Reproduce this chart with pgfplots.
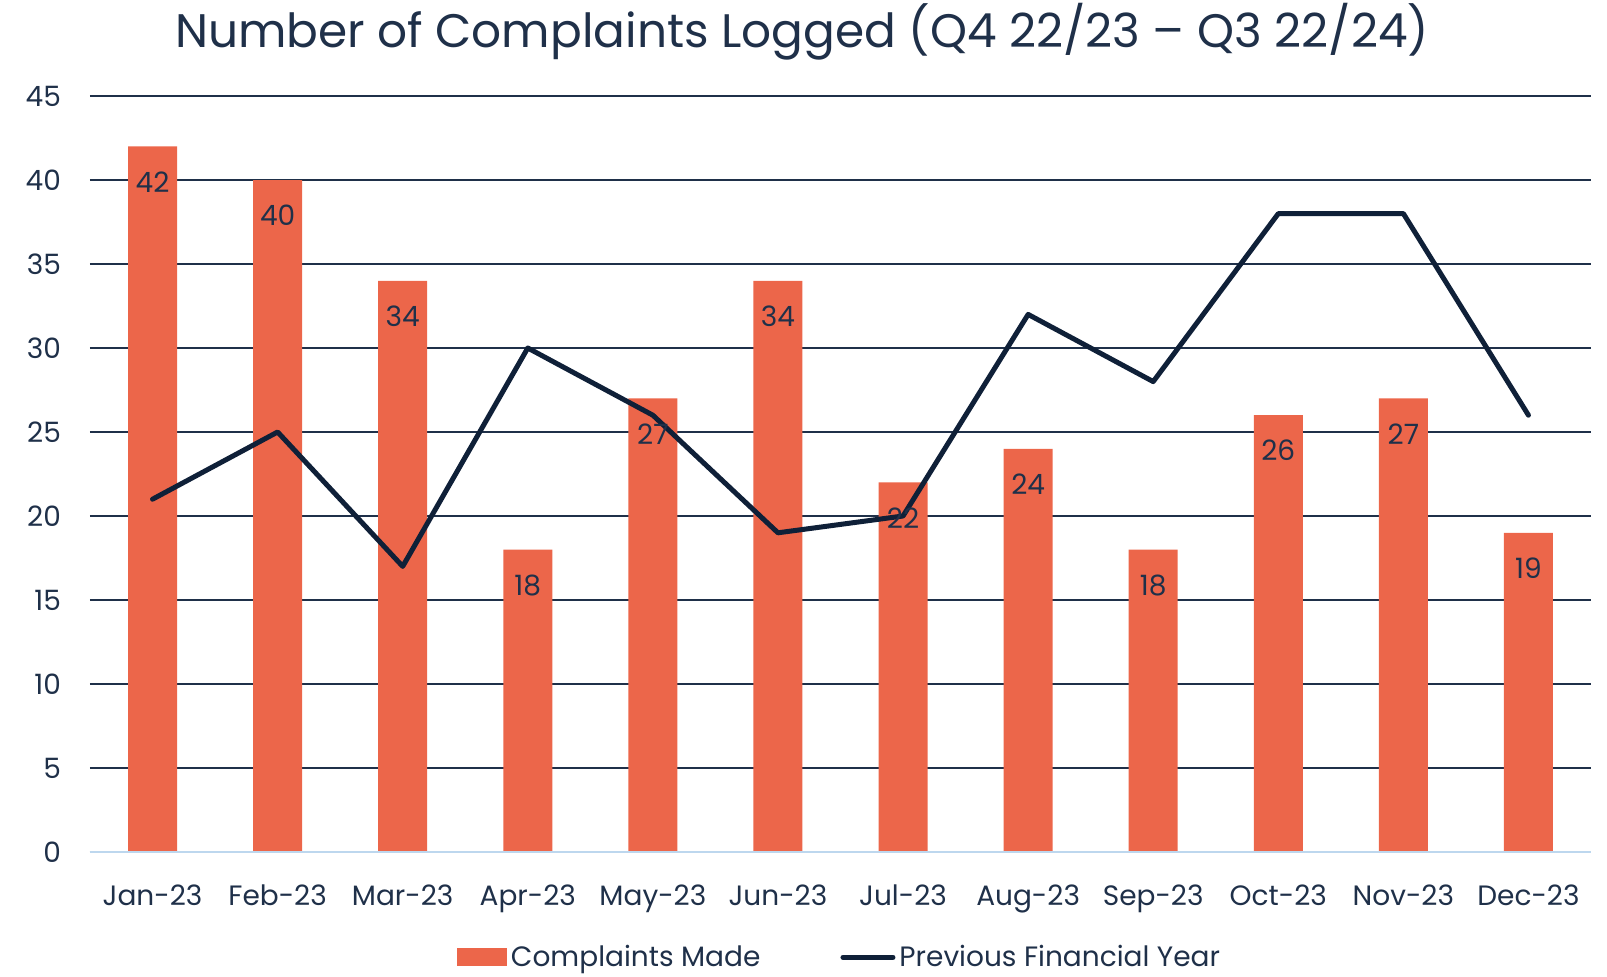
\documentclass[border=0pt]{standalone}
\usepackage{fontspec}
\setmainfont{Poppins}
\usepackage{pgfplots}
\pgfplotsset{compat=1.18}
\definecolor{barorange}{HTML}{EC664A}
\definecolor{navy}{HTML}{0F2038}
\definecolor{txtnavy}{HTML}{1F3049}
\definecolor{baseblue}{HTML}{BDD7EE}

\begin{document}
\begin{tikzpicture}
\path[use as bounding box] (-45pt,-62pt) rectangle (758.5pt,426pt);
\node[font=\fontsize{23.5}{26}\selectfont, text=txtnavy] at (356pt,410pt) {Number of Complaints Logged (Q4 22/23 – Q3 22/24)};
\begin{axis}[at={(0,0)}, anchor=south west, scale only axis,
  width=750.5pt, height=378pt,
  xmin=-0.5, xmax=11.5, ymin=0, ymax=45,
  xtick={0,...,11}, xticklabels={Jan-23,Feb-23,Mar-23,Apr-23,May-23,Jun-23,Jul-23,Aug-23,Sep-23,Oct-23,Nov-23,Dec-23},
  ytick={0,5,...,45},
  ymajorgrids, grid style={txtnavy, line width=0.8pt},
  axis line style={draw=none}, major tick length=0pt,
  tick label style={font=\fontsize{14}{16}\selectfont, text=txtnavy},
  /pgf/number format/assume math mode=true,
  yticklabel style={xshift=-11pt},
  xticklabel style={yshift=-13pt},
  legend columns=2,
  legend style={at={(0.5,-0.112)}, anchor=north, draw=none, fill=none,
    font=\fontsize{14}{16}\selectfont, text=txtnavy,
    /tikz/every even column/.append style={column sep=38pt}},
  legend cell align=left,
]
\addplot[ybar, bar width=24.5pt, fill=barorange, draw=none,
  nodes near coords, nodes near coords style={anchor=north, yshift=-9pt, font=\fontsize{14}{16}\selectfont, text=txtnavy},
  legend image code/.code={\fill[barorange] (0pt,-4.5pt) rectangle (25pt,4.5pt);}]
  coordinates {(0,42) (1,40) (2,34) (3,18) (4,27) (5,34) (6,22) (7,24) (8,18) (9,26) (10,27) (11,19)};
\addlegendentry{Complaints Made}
\addplot[navy, line width=2.5pt, line join=round, line cap=round, mark=none,
  legend image code/.code={\draw[navy, line width=2.5pt, line cap=round] (0pt,0pt) -- (25pt,0pt);}]
  coordinates {(0,21) (1,25) (2,17) (3,30) (4,26) (5,19) (6,20) (7,32) (8,28) (9,38) (10,38) (11,26)};
\addlegendentry{Previous Financial Year}
\draw[baseblue, line width=1pt] (axis cs:-0.5,0) -- (axis cs:11.5,0);
\end{axis}
\end{tikzpicture}
\end{document}
